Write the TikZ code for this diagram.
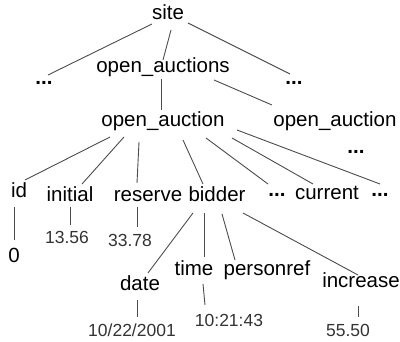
\documentclass[tikz,border=0pt]{standalone}
\usepackage{fontspec}
\setmainfont{Liberation Sans}
\begin{document}
\begin{tikzpicture}[x=1pt,y=-1pt,
  lbl/.style={anchor=base,inner sep=0pt,font=\fontsize{20.5}{22}\selectfont},
  dots/.style={lbl,font=\fontsize{20.5}{22}\selectfont\bfseries},
  val/.style={anchor=base,inner sep=0pt,text=black!80,font=\fontsize{17.5}{19}\selectfont},
  conn/.style={draw=black!70,line width=0.9pt}]
\useasboundingbox (0,0) rectangle (400,342);
% element and value nodes
\node[lbl] (site) at (168,20) {site};
\node[lbl] (oas) at (163,73) {open\_auctions};
\node[dots] (dL) at (44,85) {...};
\node[dots] (dR) at (294,85) {...};
\node[lbl] (oa) at (163,127) {open\_auction};
\node[lbl] (oa2) at (335,127) {open\_auction};
\node[dots] (d3) at (356,154) {...};
\node[lbl] (id) at (19,198) {id};
\node[lbl] (initial) at (70,202) {initial};
\node[lbl] (reserve) at (148,202) {reserve};
\node[lbl] (bidder) at (217,202) {bidder};
\node[dots] (d4) at (277,197) {...};
\node[lbl] (current) at (327,200) {current};
\node[dots] (d5) at (380,197) {...};
\node[lbl] (v0) at (14,263) {0};
\node[val] (v1) at (67,244) {13.56};
\node[val] (v2) at (130,247) {33.78};
\node[lbl] (date) at (140,291) {date};
\node[lbl] (time) at (194,276) {time};
\node[lbl] (personref) at (267,276) {personref};
\node[lbl] (increase) at (361,288) {increase};
\node[val] (vdate) at (132,337) {10/22/2001};
\node[val] (vtime) at (229,327) {10:21:43};
\node[val] (vinc) at (348,337) {55.50};
% tree edges
\draw[conn] ([shift={(-16,4)}]site.base) -- ([shift={(4,-10)}]dL.base);
\draw[conn] ([shift={(3,10)}]site.base) -- ([shift={(0,-13)}]oas.base);
\draw[conn] ([shift={(20,3)}]site.base) -- ([shift={(-4,-11)}]dR.base);
\draw[conn] ([shift={(-2,6)}]oas.base) -- ([shift={(-2,-17)}]oa.base);
\draw[conn] ([shift={(51,7)}]oas.base) -- ([shift={(-63,-22)}]oa2.base);
\draw[conn] ([shift={(-53,10)}]oa.base) -- ([shift={(6,-18)}]id.base);
\draw[conn] ([shift={(-39,10)}]oa.base) -- ([shift={(12,-18)}]initial.base);
\draw[conn] ([shift={(-24,15)}]oa.base) -- ([shift={(-11,-19)}]reserve.base);
\draw[conn] ([shift={(20,13)}]oa.base) -- ([shift={(-14,-18)}]bidder.base);
\draw[conn] ([shift={(43,11)}]oa.base) -- ([shift={(-9,-13)}]d4.base);
\draw[conn] ([shift={(69,11)}]oa.base) -- ([shift={(-14,-16)}]current.base);
\draw[conn] ([shift={(74,3)}]oa.base) -- ([shift={(0,-13)}]d5.base);
\draw[conn] ([shift={(-5,9)}]id.base) -- ([shift={(0,-23)}]v0.base);
\draw[conn] ([shift={(0,5)}]initial.base) -- ([shift={(3,-19)}]v1.base);
\draw[conn] ([shift={(-11,5)}]reserve.base) -- ([shift={(7,-20)}]v2.base);
\draw[conn] ([shift={(-24,11)}]bidder.base) -- ([shift={(8,-18)}]date.base);
\draw[conn] ([shift={(-13,11)}]bidder.base) -- ([shift={(10,-19)}]time.base);
\draw[conn] ([shift={(5,12)}]bidder.base) -- ([shift={(-32,-16)}]personref.base);
\draw[conn] ([shift={(26,11)}]bidder.base) -- ([shift={(-3,-13)}]increase.base);
\draw[conn] ([shift={(-3,9)}]date.base) -- ([shift={(5,-20)}]vdate.base);
\draw[conn] ([shift={(9,8)}]time.base) -- ([shift={(-24,-22)}]vtime.base);
\draw[conn] ([shift={(-3,18)}]increase.base) -- ([shift={(10,-20)}]vinc.base);
\end{tikzpicture}
\end{document}
